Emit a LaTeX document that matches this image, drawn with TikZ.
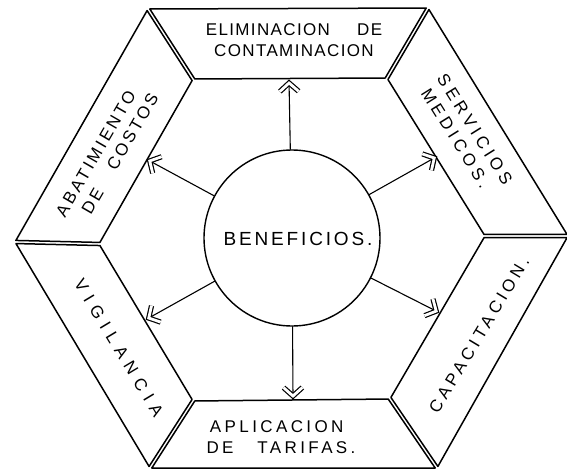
\documentclass[tikz,border=0pt]{standalone}
\usepackage{fontspec}
\setmainfont{Liberation Sans}
\usetikzlibrary{calc,arrows.meta}
\newcommand{\ls}[1]{\fontsize{17}{21}\selectfont\addfontfeature{LetterSpace=#1}}
\begin{document}
\begin{tikzpicture}[x=1pt,y=-1pt,line join=round,line cap=round,
  edge/.style={draw=black,line width=1.5pt},
  lbl/.style={inner sep=0pt,align=center},
  lblL/.style={inner sep=0pt,align=left},
  benline/.style={draw=black,line width=1.1pt},
  chevron/.style={draw=black,line width=1.2pt,double=white,double distance=2.8pt,line join=miter,line cap=butt}]
\useasboundingbox (0,0) rectangle (567,471);
% outer vertices
\coordinate (O1) at (148,9);
\coordinate (O2) at (428,8);
\coordinate (O3) at (568,236);
\coordinate (O4) at (437,468);
\coordinate (O5) at (150,468);
\coordinate (O6) at (15,242);
% inner vertices
\coordinate (I1) at (193,79);
\coordinate (I2) at (387,78);
\coordinate (I3) at (485,236);
\coordinate (I4) at (390,399);
\coordinate (I5) at (193,401);
\coordinate (I6) at (99,244);
% panels
\foreach \a/\b in {1/2,2/3,3/4,4/5,5/6,6/1}{
  \draw[edge] ($(O\a)!1.8pt!(O\b)$) -- ($(O\b)!1.8pt!(O\a)$) -- ($(I\b)!1.8pt!(I\a)$) -- ($(I\a)!1.8pt!(I\b)$) -- cycle;
}
% centre
\node[draw=black,line width=1.4pt,circle,minimum size=176pt,inner sep=0pt] (ben) at (292,238) {};
\node[inner sep=0pt,font={\fontsize{19}{22}\selectfont\addfontfeature{LetterSpace=15}}] (bentxt) at (298,239) {BENEFICIOS.};
% arrow targets
\coordinate (tT) at (289,81);
\coordinate (tUR) at (436,157);
\coordinate (tLR) at (438,312);
\coordinate (tB) at (293,398);
\coordinate (tLL) at (147,319);
\coordinate (tUL) at (148,160);
\foreach \t in {tT,tUR,tLR,tB,tLL,tUL}{
  \draw[benline] (ben) -- (\t);
  \draw[chevron] ($(\t)!14pt!42:(ben.center)$) -- ($(\t)!2pt!(ben.center)$) -- ($(\t)!14pt!-42:(ben.center)$);
}
% labels
\node[lbl,font={\ls{8}}] (elim) at (294,40) {ELIMINACION\hspace{1.6em}DE\\CONTAMINACION};
\node[lblL,font={\ls{25}}] (serv) at (466,135) [rotate=-58] {SERVICIOS\\\hspace{0.2em}MEDICOS.};
\node[lbl,font={\ls{24}}] (capa) at (479,335) [rotate=59] {CAPACITACION.};
\node[lblL,font={\ls{20}}] (apli) at (281,437) {\hspace{0.2em}APLICACION\\DE\hspace{1.4em}TARIFAS.};
\node[lbl,font={\ls{40}}] (vigi) at (119,348) [rotate=-59] {VIGILANCIA};
\node[lblL,font={\ls{17}}] (abat) at (107,155) [rotate=60] {ABATIMIENTO\\\hspace{0.9em}DE\hspace{1.4em}COSTOS};
\end{tikzpicture}
\end{document}
